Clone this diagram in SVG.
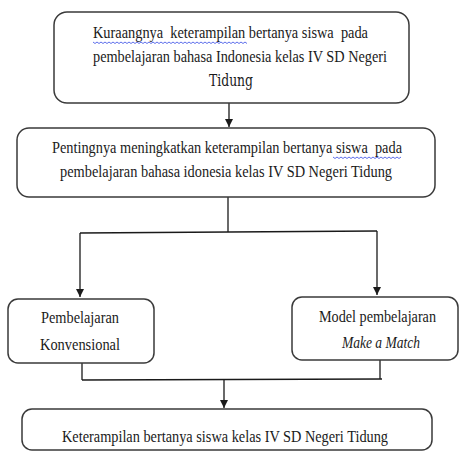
<svg xmlns="http://www.w3.org/2000/svg" width="460" height="452" viewBox="0 0 460 452">
<defs>
<style>
.box{fill:#fff;stroke:#3a3a3a;stroke-width:1.5}
.t{font-family:"Liberation Serif","Times New Roman",serif;font-size:16px;fill:#1a1a1a}
.c{fill:none;stroke:#1a1a1a;stroke-width:1.3}
.sq{fill:none;stroke:#4a5ee8;stroke-width:0.9}
</style>
<marker id="ah" viewBox="0 0 10 10" refX="10" refY="5" markerWidth="8" markerHeight="8" markerUnits="userSpaceOnUse" orient="auto">
<path d="M0,0 L10,5 L0,10 z" fill="#1a1a1a"/>
</marker>
</defs>
<rect width="460" height="452" fill="#fff"/>
<g id="connectors">
<line class="c" x1="229" y1="103" x2="229" y2="127" marker-end="url(#ah)"/>
<line class="c" x1="228" y1="197" x2="228" y2="232"/>
<line class="c" x1="80" y1="233" x2="377" y2="231"/>
<line class="c" x1="80" y1="233" x2="80" y2="297" marker-end="url(#ah)"/>
<line class="c" x1="377" y1="231" x2="377" y2="295" marker-end="url(#ah)"/>
<line class="c" x1="82" y1="363" x2="82" y2="380"/>
<line class="c" x1="380" y1="360" x2="380" y2="379"/>
<line class="c" x1="82" y1="380" x2="382" y2="379"/>
<line class="c" x1="224" y1="380" x2="224" y2="408" marker-end="url(#ah)"/>
</g>
<g id="n1">
<rect class="box" x="54" y="12" width="355" height="91" rx="13"/>
<text class="t" x="93" y="38" textLength="275" lengthAdjust="spacingAndGlyphs" xml:space="preserve">Kuraangnya  keterampilan bertanya siswa  pada</text>
<path class="sq" d="M93,42 l2,1.5 l2,-1.5 l2,1.5 l2,-1.5 l2,1.5 l2,-1.5 l2,1.5 l2,-1.5 l2,1.5 l2,-1.5 l2,1.5 l2,-1.5 l2,1.5 l2,-1.5 l2,1.5 l2,-1.5 l2,1.5 l2,-1.5 l2,1.5 l2,-1.5 l2,1.5 l2,-1.5 l2,1.5 l2,-1.5 l2,1.5 l2,-1.5 l2,1.5 l2,-1.5 l2,1.5 l2,-1.5 l2,1.5 l2,-1.5 l2,1.5 l2,-1.5 l2,1.5 l2,-1.5 l2,1.5 l2,-1.5 l2,1.5 l2,-1.5 l2,1.5 l2,-1.5 l2,1.5 l2,-1.5 l2,1.5 l2,-1.5 l2,1.5 l2,-1.5 l2,1.5 l2,-1.5 l2,1.5 l2,-1.5 l2,1.5 l2,-1.5 l2,1.5 l2,-1.5 l2,1.5 l2,-1.5 l2,1.5 l2,-1.5 l2,1.5 l2,-1.5 l2,1.5 l2,-1.5 l2,1.5 l2,-1.5 l2,1.5 l2,-1.5 l2,1.5 l2,-1.5 l2,1.5 l2,-1.5 l2,1.5 l2,-1.5 l2,1.5 l2,-1.5 l2,1.5"/>
<text class="t" x="93" y="62" textLength="294" lengthAdjust="spacingAndGlyphs">pembelajaran bahasa Indonesia kelas IV SD Negeri</text>
<text class="t" style="font-family:'DejaVu Serif',serif" x="231" y="86" text-anchor="middle" textLength="44" lengthAdjust="spacingAndGlyphs">Tidung</text>
</g>
<g id="n2">
<rect class="box" x="17" y="128" width="418" height="69" rx="12"/>
<text class="t" x="52" y="153" textLength="350" lengthAdjust="spacingAndGlyphs" xml:space="preserve">Pentingnya meningkatkan keterampilan bertanya siswa  pada</text>
<path class="sq" d="M333,157 l2,1.5 l2,-1.5 l2,1.5 l2,-1.5 l2,1.5 l2,-1.5 l2,1.5 l2,-1.5 l2,1.5 l2,-1.5 l2,1.5 l2,-1.5 l2,1.5 l2,-1.5 l2,1.5 l2,-1.5 l2,1.5 l2,-1.5 l2,1.5 l2,-1.5 l2,1.5 l2,-1.5 l2,1.5 l2,-1.5 l2,1.5 l2,-1.5 l2,1.5 l2,-1.5 l2,1.5 l2,-1.5 l2,1.5 l2,-1.5 l2,1.5 l2,-1.5"/>
<text class="t" x="60" y="177" textLength="332" lengthAdjust="spacingAndGlyphs">pembelajaran bahasa idonesia kelas IV SD Negeri Tidung</text>
</g>
<g id="n3">
<rect class="box" x="8" y="299" width="146" height="64" rx="10"/>
<text class="t" x="80" y="323" text-anchor="middle" textLength="78" lengthAdjust="spacingAndGlyphs">Pembelajaran</text>
<text class="t" x="80" y="350" text-anchor="middle" textLength="80" lengthAdjust="spacingAndGlyphs">Konvensional</text>
</g>
<g id="n4">
<rect class="box" x="292" y="297" width="166" height="63" rx="10"/>
<text class="t" x="377.5" y="322" text-anchor="middle" textLength="117" lengthAdjust="spacingAndGlyphs">Model pembelajaran</text>
<text class="t" x="381" y="348" text-anchor="middle" font-style="italic" textLength="78" lengthAdjust="spacingAndGlyphs">Make a Match</text>
</g>
<g id="n5">
<rect class="box" x="22" y="409" width="410" height="41" rx="10"/>
<text class="t" x="225" y="442" text-anchor="middle" textLength="326" lengthAdjust="spacingAndGlyphs">Keterampilan bertanya siswa kelas IV SD Negeri Tidung</text>
</g>
</svg>
